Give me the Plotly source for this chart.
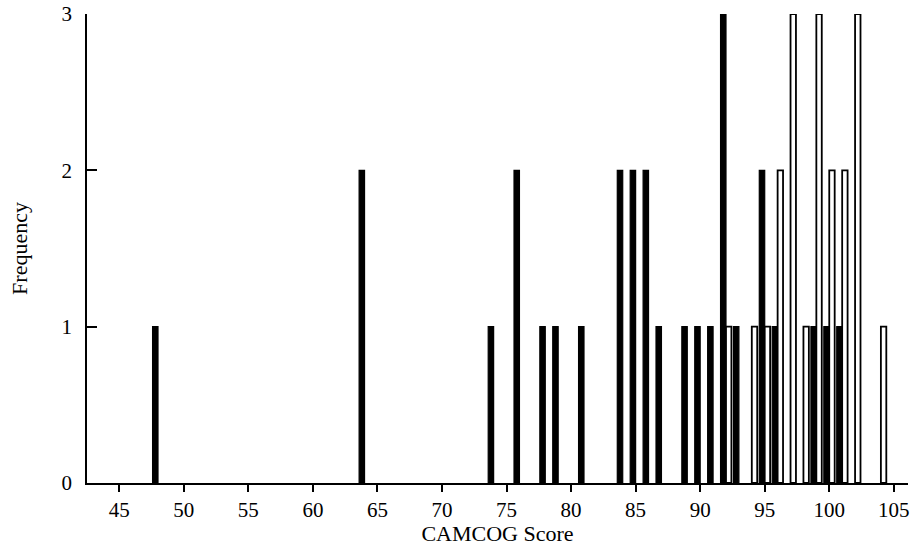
import plotly.graph_objects as go

# Data
black_scores = [48, 64, 74, 76, 78, 79, 81, 84, 85, 86, 87, 89, 90, 91, 92, 93, 95, 96, 99, 100, 101]
black_counts = [1, 2, 1, 2, 1, 1, 1, 2, 2, 2, 1, 1, 1, 1, 3, 1, 2, 1, 1, 1, 1]
white_scores = [92, 94, 95, 96, 97, 98, 99, 100, 101, 102, 104]
white_counts = [1, 1, 1, 2, 3, 1, 3, 2, 2, 3, 1]
x_ticks = [45, 50, 55, 60, 65, 70, 75, 80, 85, 90, 95, 100, 105]
y_ticks = [0, 1, 2, 3]

FONT = "Liberation Serif, Times New Roman, serif"

fig = go.Figure()
fig.add_trace(go.Bar(x=black_scores, y=black_counts, name="group 1",
                     marker=dict(color="black", line=dict(color="black", width=1.2))))
fig.add_trace(go.Bar(x=white_scores, y=white_counts, name="group 2",
                     marker=dict(color="white", line=dict(color="black", width=1.8))))

fig.update_layout(
    width=910, height=546,
    margin=dict(l=87, r=2, t=14, b=63, autoexpand=False),
    paper_bgcolor="white", plot_bgcolor="white",
    barmode="group", bargap=0.16, bargroupgap=0,
    showlegend=False,
    font=dict(family=FONT, size=21, color="black"),
)
fig.update_xaxes(
    range=[42.5, 106.1], tickmode="array", tickvals=x_ticks,
    ticks="outside", ticklen=7, tickwidth=1.5, tickcolor="black",
    showline=True, linecolor="black", linewidth=1.5,
    showgrid=False, zeroline=False, automargin=False,
    title=dict(text="CAMCOG Score", font=dict(family=FONT, size=22), standoff=5),
    tickfont=dict(family=FONT, size=21),
)
fig.update_yaxes(
    range=[0, 3], tickmode="array", tickvals=y_ticks,
    ticks="inside", ticklen=10, tickwidth=1.5, tickcolor="black",
    showline=True, linecolor="black", linewidth=1.5,
    showgrid=False, zeroline=False, automargin=False,
    ticklabelstandoff=9,
    title=dict(text="Frequency", font=dict(family=FONT, size=22), standoff=28),
    tickfont=dict(family=FONT, size=21),
)

fig.write_html("out.html",
               config={"displayModeBar": False},
               post_script="document.body.style.margin='0';document.body.style.overflow='hidden';")
